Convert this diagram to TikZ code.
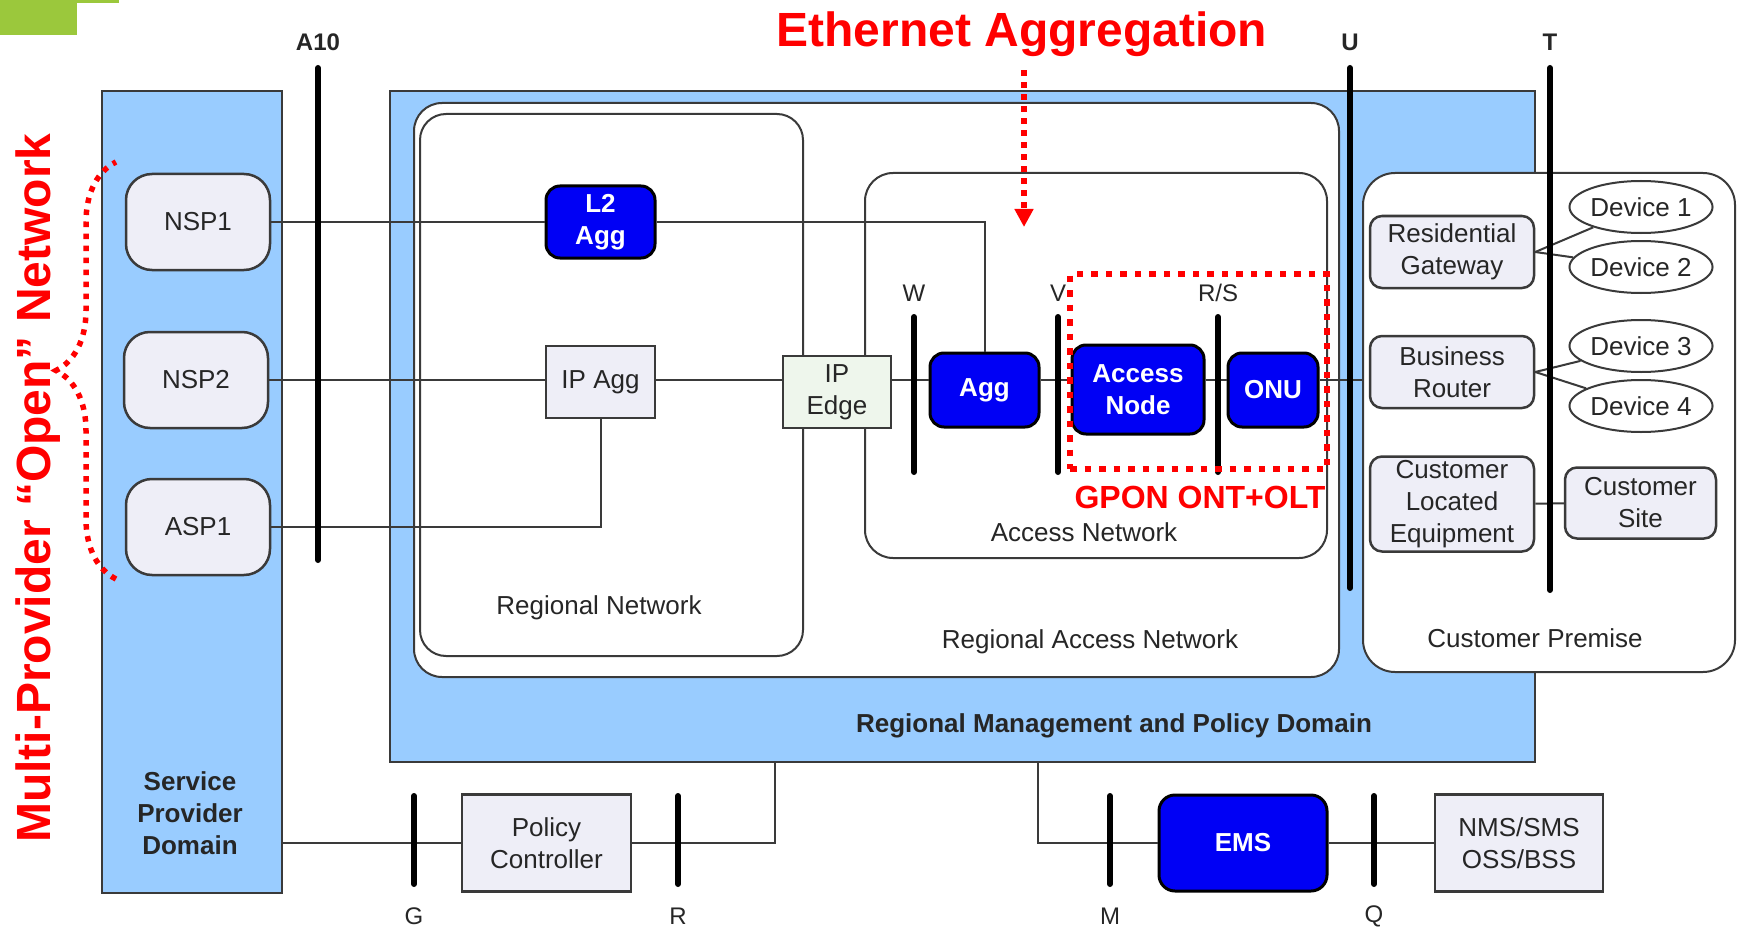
\documentclass[tikz,border=0pt]{standalone}
\usepackage{fontspec}
\setmainfont{Liberation Sans}
\usepackage{tikz}
\usetikzlibrary{shapes.geometric, arrows.meta, positioning, calc, decorations.pathreplacing}
\definecolor{domainBlue}{HTML}{99CCFF}
\definecolor{boxGrey}{HTML}{EEEEF7}
\definecolor{edgeGreen}{HTML}{EEF6EC}
\definecolor{nodeBlue}{HTML}{0000F5}
\definecolor{lineGrey}{HTML}{3A3A3A}
\definecolor{noteRed}{HTML}{FF0000}
\definecolor{cornerGreen}{HTML}{9BC83C}
\newcommand{\boxFont}{\fontsize{26pt}{32pt}\selectfont}
\newcommand{\barFont}{\fontsize{24pt}{28pt}\selectfont}
\newcommand{\noteFont}{\fontsize{48pt}{56pt}\selectfont\bfseries}

\begin{document}
\begin{tikzpicture}[x=1pt, y=-1pt,
    every node/.style={text=black!85, font=\boxFont, align=center},
    domainBox/.style={draw=lineGrey, line width=2.5pt, fill=domainBlue, inner sep=0},
    regionBox/.style={draw=lineGrey, line width=2pt, fill=white, rounded corners=26pt, inner sep=0},
    greyBox/.style={draw=lineGrey, line width=2.5pt, fill=boxGrey, inner sep=0},
    spBox/.style={greyBox, rounded corners=26pt, minimum width=144pt, minimum height=96pt},
    cpeBox/.style={greyBox, rounded corners=12pt, minimum width=164pt},
    blueBox/.style={draw=black, line width=3pt, fill=nodeBlue, rounded corners=14pt, text=white, font=\boxFont\bfseries, inner sep=0},
    deviceOval/.style={ellipse, draw=lineGrey, line width=2pt, fill=white, minimum width=132pt, minimum height=52pt, inner sep=0},
    wire/.style={draw=lineGrey, line width=2pt},
    refBar/.style={line width=6pt, line cap=round},
    redDots/.style={draw=noteRed, line width=6.5pt, dash pattern=on 6.5pt off 8pt}]
    \useasboundingbox (0,0) rectangle (1742,928);
    % corner mark
    \fill[cornerGreen] (0,0) rectangle (77,35);
    \fill[cornerGreen] (0,0) rectangle (119,3);

    % domains and regions
    \node[domainBox, minimum width=180pt, minimum height=802pt] (spDom) at (192,492) {};
    \node[domainBox, minimum width=1145pt, minimum height=671pt] (mgmtDom) at (962.5,426.5) {};
    \node[regionBox, rounded corners=28pt, minimum width=925pt, minimum height=574pt] (ranBox) at (876.5,390) {};
    \node[regionBox, minimum width=383pt, minimum height=542pt] (rnBox) at (611.5,385) {};
    \node[regionBox, rounded corners=28pt, minimum width=462pt, minimum height=385pt] (anBox) at (1096,365.5) {};
    \node[regionBox, rounded corners=32pt, minimum width=372pt, minimum height=499pt] (cpBox) at (1549,422.5) {};

    \node (rnLbl) at (599,608) {Regional Network};
    \node (ranLbl) at (1090,642) {Regional Access Network};
    \node (anLbl) at (1084,532) {Access Network};
    \node (cpLbl) at (1535,638) {Customer Premise};
    \node[font=\boxFont\bfseries] (mgmtLbl) at (1114,726) {Regional Management and Policy Domain};
    \node[font=\boxFont\bfseries] (spLbl) at (190,813) {Service\\Provider\\Domain};

    % providers
    \node[spBox] (nsp1) at (198,222) {NSP1};
    \node[spBox] (nsp2) at (196,380) {NSP2};
    \node[spBox] (asp1) at (198,527) {ASP1};

    % network chain
    \node[blueBox, minimum width=109pt, minimum height=72pt] (l2agg) at (600.5,222) {L2\\Agg};
    \node[greyBox, minimum width=109pt, minimum height=72pt] (ipagg) at (600.5,382) {IP Agg};
    \node[greyBox, fill=edgeGreen, minimum width=108pt, minimum height=72pt] (ipedge) at (837,392) {IP\\Edge};
    \node[blueBox, minimum width=109pt, minimum height=74pt] (agg) at (984.5,390) {Agg};
    \node[blueBox, minimum width=132pt, minimum height=89pt] (accNode) at (1138,389.5) {Access\\Node};
    \node[blueBox, minimum width=90pt, minimum height=74pt] (onu) at (1273,390) {ONU};

    % customer side
    \node[cpeBox, minimum height=72pt] (rg) at (1452,252) {Residential\\Gateway};
    \node[cpeBox, minimum height=72pt] (br) at (1452,372) {Business\\Router};
    \node[cpeBox, minimum height=95pt] (cle) at (1452,504) {Customer\\Located\\Equipment};
    \node[cpeBox, minimum width=151pt, minimum height=71pt] (csite) at (1640.5,503) {Customer\\Site};
    \node[deviceOval] (dev1) at (1641,207) {Device 1};
    \node[deviceOval] (dev2) at (1641,267) {Device 2};
    \node[deviceOval] (dev3) at (1641,346) {Device 3};
    \node[deviceOval] (dev4) at (1641,406) {Device 4};

    % management
    \node[greyBox, minimum width=169pt, minimum height=97pt] (policy) at (546.5,843) {Policy\\Controller};
    \node[blueBox, rounded corners=16pt, minimum width=168pt, minimum height=96pt] (ems) at (1243,843) {EMS};
    \node[greyBox, minimum width=168pt, minimum height=97pt] (nms) at (1519,843) {NMS/SMS\\OSS/BSS};

    % wires
    \coordinate (mainLevel) at (0,380);
    \coordinate (pcJoin) at (775,762);
    \coordinate (emsJoin) at (1038,762);
    \draw[wire] (nsp1) -- (l2agg);
    \draw[wire] (l2agg) -| (agg);
    \foreach \a/\b in {nsp2/ipagg, ipagg/ipedge, ipedge/agg, agg/accNode, accNode/onu, onu/cpBox}
        \draw[wire] (\a.east |- mainLevel) -- (\b.west |- mainLevel);
    \draw[wire] (asp1) -| (ipagg);
    \foreach \d in {dev1, dev2} \draw[wire] (rg.east) -- (\d);
    \foreach \d in {dev3, dev4} \draw[wire] (br.east) -- (\d);
    \draw[wire] (cle) -- (csite);
    \draw[wire] (spDom.east |- policy) -- (policy);
    \draw[wire] (policy) -| (pcJoin);
    \draw[wire] (emsJoin) |- (ems);
    \draw[wire] (ems) -- (nms);

    % reference points
    \foreach \x/\ya/\yb/\lab in {318/68/560/A10, 1350/68/588/U, 1550/68/590/T} {
        \draw[refBar] (\x,\ya) -- (\x,\yb);
        \node[font=\barFont\bfseries] at (\x,42) {\lab};
    }
    \foreach \x/\lab in {914/W, 1058/V, 1218/{R/S}} {
        \draw[refBar] (\x,317) -- (\x,472);
        \node[font=\barFont] at (\x,293) {\lab};
    }
    \foreach \x/\lab in {414/G, 678/R, 1110/M, 1374/Q} {
        \draw[refBar] (\x,796) -- (\x,884);
        \node[font=\barFont] at (\x,916) {\lab};
    }

    % red notes
    \node[font=\noteFont, text=noteRed] (ethTitle) at (1022,34) {Ethernet Aggregation};
    \coordinate (aggTip) at (1024,227);
    \draw[redDots, dash pattern=on 6pt off 6pt, shorten <=10pt, -{Triangle[width=18pt,length=18pt]}] (ethTitle.south -| aggTip) -- (aggTip);
    \node[redDots, minimum width=257pt, minimum height=195pt, inner sep=0] (gponFrame) at (1198.5,371.5) {};
    \node[font=\fontsize{32pt}{36pt}\selectfont\bfseries, text=noteRed] (gponLbl) at (1200,497) {GPON ONT+OLT};
    \node[font=\noteFont, text=noteRed, rotate=90, anchor=base] (openLbl) at (50,488) {Multi-Provider “Open” Network};
    \draw[redDots, line width=5.5pt, dash pattern=on 5.5pt off 6.5pt, decorate, decoration={brace, amplitude=60pt}] (116,579) -- (116,162);
\end{tikzpicture}
\end{document}
